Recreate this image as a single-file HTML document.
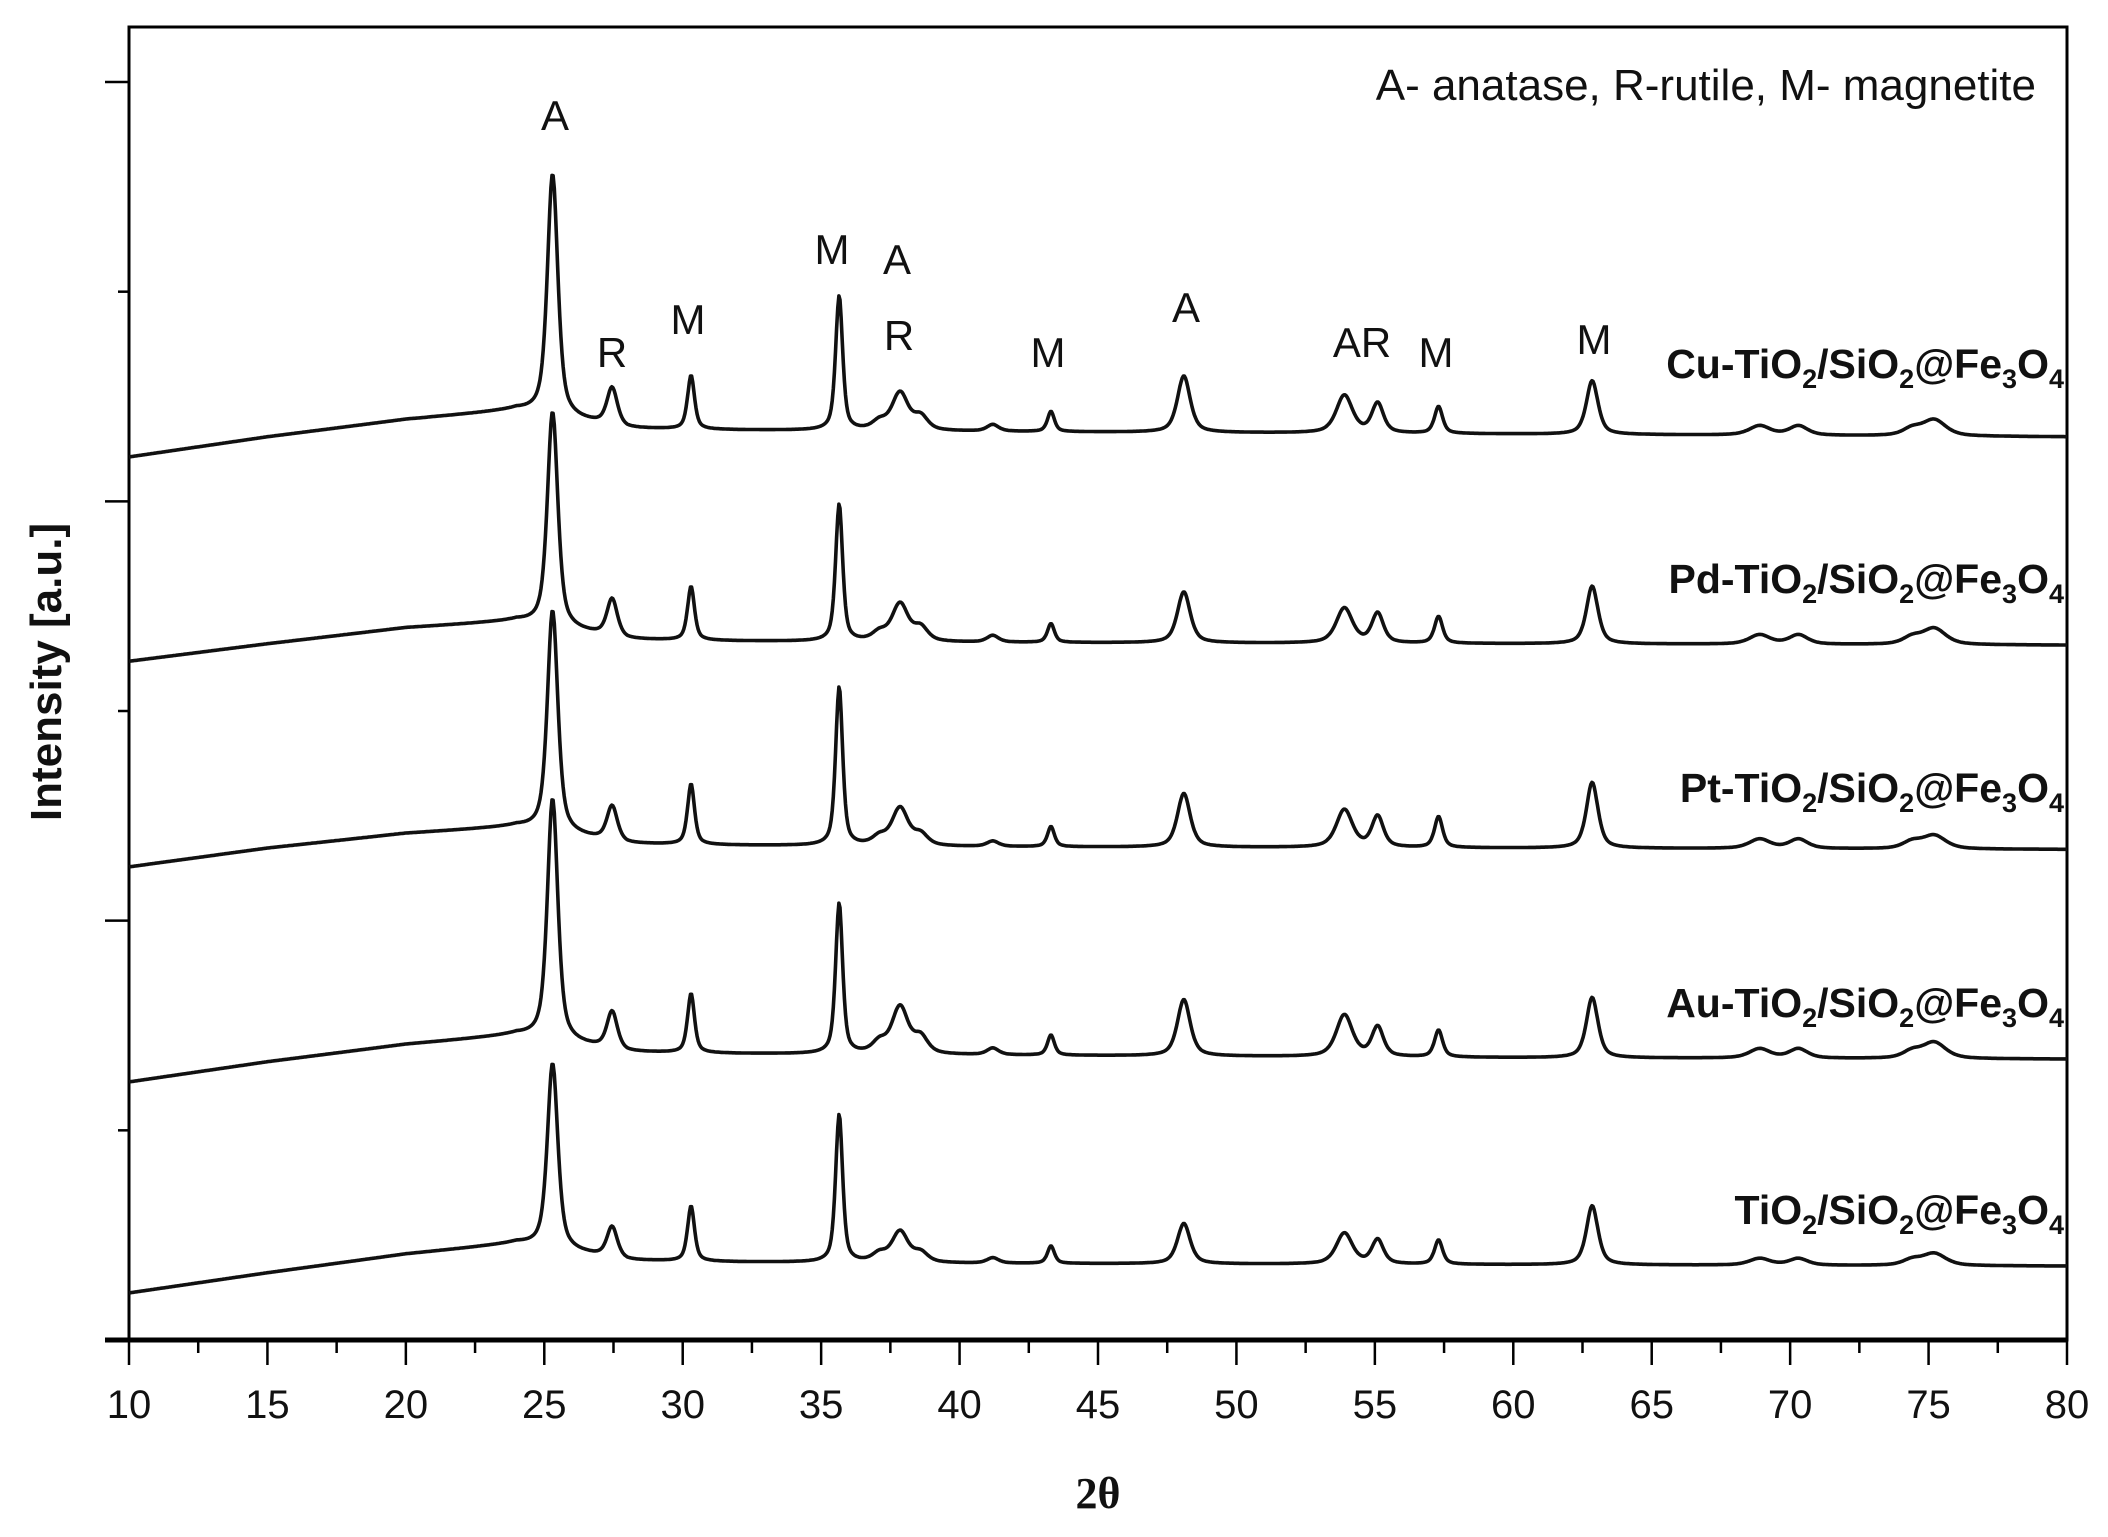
<!DOCTYPE html>
<html><head><meta charset="utf-8"><style>
html,body{margin:0;padding:0;background:#fff;}
svg{display:block;font-family:"Liberation Sans",sans-serif;}
</style></head><body>
<svg id="chart" width="2108" height="1537" viewBox="0 0 2108 1537" xmlns="http://www.w3.org/2000/svg">
<g id="frame"></g>
<g id="series"></g>
<g id="axes"></g>
<g id="labels"></g>
</svg>
<script>
// ---- data ----
const xTicks = [10,15,20,25,30,35,40,45,50,55,60,65,70,75,80];
const yTicks = [156,312,468,624,780,936];
const peakPos   = [25.3,27.45,30.3,35.65,37.1,37.85,38.6,41.2,43.3,48.1,53.9,55.1,57.3,62.85,68.9,70.3,74.4,75.2];
const peakWidth = [0.45,0.45,0.3,0.3,0.6,0.7,0.6,0.5,0.3,0.55,0.7,0.5,0.35,0.5,0.9,0.8,0.8,1.0];
const seriesNames = ["Cu","Pd","Pt","Au","Bare"];
const bgX = [10,15,20,24,28,32,40,60,80];
const bgCu   = [657,672,685,692,678,677,676,674,672];
const bgPd   = [505,518,530,535,521,520,519,518,517];
const bgPt   = [352,366,377,382,369,368,367,366,365];
const bgAu   = [192,207,220,227,214,213,212,210,209];
const bgBare = [35,50,64,72,59,58,57,56,55];
const hCu   = [180,28,40,100,6,28,10,5,15,42,28,22,20,40,7,7,5,12];
const hPd   = [160,28,40,102,6,28,10,5,14,38,26,22,20,43,7,7,5,12];
const hPt   = [165,26,45,118,6,28,8,4,15,40,28,23,23,49,7,7,5,10];
const hAu   = [180,28,44,112,8,35,12,5,15,42,31,22,20,45,7,7,5,12];
const hBare = [138,23,41,110,6,23,7,4,13,30,23,18,18,44,5,5,4,9];
const bgs = [bgCu,bgPd,bgPt,bgAu,bgBare];
const hs = [hCu,hPd,hPt,hAu,hBare];

// ---- axes ----
const X0=129, X1=2067, Y0=1340, YT=27, K=1.344;
const xs = v => X0 + (v-10)/70*(X1-X0);
const ys = v => Y0 - v*K;
const NS="http://www.w3.org/2000/svg";
function mk(tag, attrs, parent){const e=document.createElementNS(NS,tag);for(const k in attrs)e.setAttribute(k,attrs[k]);parent.appendChild(e);return e;}

const frame=document.getElementById('frame');
const fr=mk('rect',{x:X0,y:YT,width:X1-X0,height:Y0-YT,fill:'none',stroke:'#000','stroke-width':3},frame);



const axes=document.getElementById('axes');
const xa=mk('line',{x1:X0-24,x2:X1,y1:Y0,y2:Y0,stroke:'#000','stroke-width':5},axes);


for(let v=10; v<=80; v+=2.5){
  const major = (v%5===0);
  const t=mk('line',{x1:xs(v),x2:xs(v),y1:Y0,y2:Y0+(major?25:13),stroke:'#000','stroke-width':2.5},axes);
  
  
}
xTicks.forEach(v=>{
  const t=mk('text',{x:xs(v),y:Y0+78,'text-anchor':'middle','font-size':40,fill:'#111'},axes);
  t.textContent=v;
  
  
});
yTicks.forEach((v,i)=>{
  const long = (i%2===1);
  const t=mk('line',{x1:X0-(long?24:11),x2:X0,y1:ys(v),y2:ys(v),stroke:'#000','stroke-width':2.5},axes);
  
  
});
const xt=mk('text',{x:1098,y:1508,'text-anchor':'middle','font-size':44,'font-weight':'bold','font-family':'"Liberation Serif",serif',fill:'#111'},axes);
xt.textContent='2θ';


const yt=mk('text',{x:0,y:0,'text-anchor':'middle','font-size':44,'font-weight':'bold',fill:'#111',transform:'translate(61,672) rotate(-90)'},axes);
yt.textContent='Intensity [a.u.]';



// ---- series ----
function bgAt(bg,x){
  for(let i=0;i<bgX.length-1;i++){ if(x<=bgX[i+1]){const t=(x-bgX[i])/(bgX[i+1]-bgX[i]);return bg[i]+(bg[i+1]-bg[i])*t;} }
  return bg[bg.length-1];
}
const sg=document.getElementById('series');
seriesNames.forEach((name,si)=>{
  let d='';
  for(let x=10;x<=80.0001;x+=0.04){
    let I=bgAt(bgs[si],x);
    for(let p=0;p<peakPos.length;p++){
      const g=(x-peakPos[p])/(peakWidth[p]/2);
      I+=hs[si][p]*(0.6/(1+g*g)+0.4*Math.exp(-0.693*g*g));
    }
    d+=(d?'L':'M')+xs(x).toFixed(1)+','+ys(I).toFixed(1);
  }
  const p=mk('path',{d:d,fill:'none',stroke:'#111','stroke-width':3.6,'stroke-linejoin':'round'},sg);
  
  
});
</script>
<svg style="position:absolute;left:0;top:0" width="2108" height="1537">
<g font-family="Liberation Sans, sans-serif" fill="#111">
<text x="2036" y="100" text-anchor="end" font-size="44">A- anatase, R-rutile, M- magnetite</text>
<g font-size="42" text-anchor="middle">
<text x="555" y="130">A</text>
<text x="612" y="367">R</text>
<text x="688" y="334">M</text>
<text x="832" y="264">M</text>
<text x="897" y="274">A</text>
<text x="899" y="350">R</text>
<text x="1048" y="367">M</text>
<text x="1186" y="322">A</text>
<text x="1362" y="357">AR</text>
<text x="1436" y="367">M</text>
<text x="1594" y="354">M</text>
</g>
<g font-size="41" font-weight="bold" text-anchor="end">
<text x="2064" y="378">Cu-TiO<tspan font-size="27" dy="10">2</tspan><tspan dy="-10">/SiO</tspan><tspan font-size="27" dy="10">2</tspan><tspan dy="-10">@Fe</tspan><tspan font-size="27" dy="10">3</tspan><tspan dy="-10">O</tspan><tspan font-size="27" dy="10">4</tspan></text>
<text x="2064" y="593">Pd-TiO<tspan font-size="27" dy="10">2</tspan><tspan dy="-10">/SiO</tspan><tspan font-size="27" dy="10">2</tspan><tspan dy="-10">@Fe</tspan><tspan font-size="27" dy="10">3</tspan><tspan dy="-10">O</tspan><tspan font-size="27" dy="10">4</tspan></text>
<text x="2064" y="802">Pt-TiO<tspan font-size="27" dy="10">2</tspan><tspan dy="-10">/SiO</tspan><tspan font-size="27" dy="10">2</tspan><tspan dy="-10">@Fe</tspan><tspan font-size="27" dy="10">3</tspan><tspan dy="-10">O</tspan><tspan font-size="27" dy="10">4</tspan></text>
<text x="2064" y="1017">Au-TiO<tspan font-size="27" dy="10">2</tspan><tspan dy="-10">/SiO</tspan><tspan font-size="27" dy="10">2</tspan><tspan dy="-10">@Fe</tspan><tspan font-size="27" dy="10">3</tspan><tspan dy="-10">O</tspan><tspan font-size="27" dy="10">4</tspan></text>
<text x="2064" y="1224">TiO<tspan font-size="27" dy="10">2</tspan><tspan dy="-10">/SiO</tspan><tspan font-size="27" dy="10">2</tspan><tspan dy="-10">@Fe</tspan><tspan font-size="27" dy="10">3</tspan><tspan dy="-10">O</tspan><tspan font-size="27" dy="10">4</tspan></text>
</g>
</g>
</svg>
</body></html>
